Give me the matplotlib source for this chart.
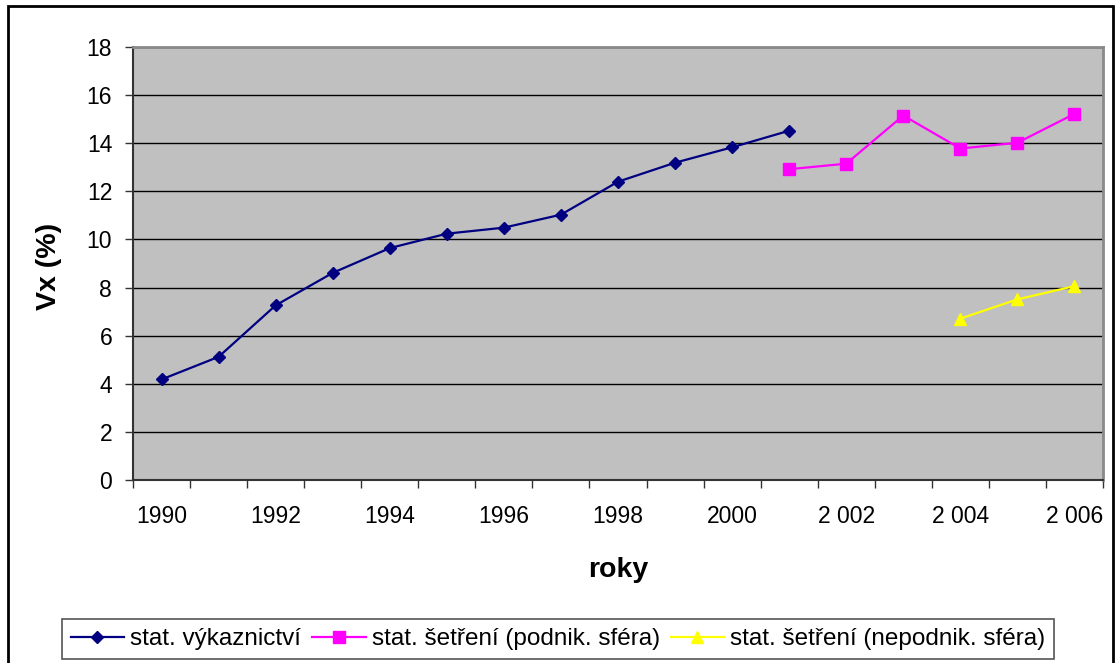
import matplotlib
matplotlib.use("Agg")
import matplotlib.pyplot as plt
from matplotlib.patches import Rectangle
from matplotlib.ticker import FixedLocator, MultipleLocator

plt.rcParams['font.family'] = ['Liberation Sans', 'DejaVu Sans']

years = list(range(1990, 2007))
tick_labels = ["1990", "1992", "1994", "1996", "1998", "2000", "2 002", "2 004", "2 006"]

vykaz_years = list(range(1990, 2002))
vykaz = [4.18, 5.12, 7.26, 8.61, 9.64, 10.24, 10.49, 11.03, 12.40, 13.19, 13.83, 14.52]

podnik_years = list(range(2001, 2007))
podnik = [12.92, 13.15, 15.15, 13.78, 14.02, 15.22]

nepodnik_years = [2004, 2005, 2006]
nepodnik = [6.71, 7.51, 8.06]

series_names = ["stat. výkaznictví",
                "stat. šetření (podnik. sféra)",
                "stat. šetření (nepodnik. sféra)"]

W, H = 1115, 663
fig = plt.figure(figsize=(W / 100, H / 100), dpi=100)
ax = fig.add_axes([133 / W, 1 - 480 / H, 970 / W, 433 / H])
ax.set_facecolor('#C0C0C0')

idx = {y: i for i, y in enumerate(years)}

l1, = ax.plot([idx[y] for y in vykaz_years], vykaz, color='#000080', lw=1.6,
              marker='D', markersize=6.5, markeredgecolor='#000080', markerfacecolor='#000080')
l2, = ax.plot([idx[y] for y in podnik_years], podnik, color='#FF00FF', lw=1.6,
              marker='s', markersize=8, markeredgecolor='#FF00FF', markerfacecolor='#FF00FF')
l3, = ax.plot([idx[y] for y in nepodnik_years], nepodnik, color='#FFFF00', lw=1.6,
              marker='^', markersize=9, markeredgecolor='#FFFF00', markerfacecolor='#FFFF00')

ax.set_xlim(-0.5, len(years) - 0.5)
ax.set_ylim(0, 18)
ax.yaxis.set_major_locator(MultipleLocator(2))
ax.grid(axis='y', color='black', lw=1)
ax.set_axisbelow(True)

ax.set_xticks(list(range(0, len(years), 2)))
ax.set_xticklabels(tick_labels)
ax.xaxis.set_minor_locator(FixedLocator([i - 0.5 for i in range(len(years) + 1)]))
ax.tick_params(axis='x', which='major', length=0, pad=18, labelsize=16.5)
ax.tick_params(axis='x', which='minor', length=6, width=1, color='#333333', direction='out')
ax.tick_params(axis='y', which='major', length=6, width=1, color='#333333', pad=9, labelsize=16.5)

for s in ['left', 'bottom']:
    ax.spines[s].set_color('#333333')
    ax.spines[s].set_linewidth(1.5)
for s in ['top', 'right']:
    ax.spines[s].set_color('#8A8A8A')
    ax.spines[s].set_linewidth(2)

fig.text(49 / W, 1 - 266 / H, "Vx (%)", rotation=90, ha='center', va='center',
         fontsize=20.5, fontweight='bold')
fig.text(618 / W, 1 - 570 / H, "roky", ha='center', va='center',
         fontsize=20.5, fontweight='bold')

leg = fig.legend([l1, l2, l3], series_names, loc='center', ncol=3,
                 bbox_to_anchor=(558 / W, 1 - 639 / H), fontsize=17.5,
                 frameon=True, fancybox=False, edgecolor='#555555', framealpha=1,
                 handlelength=2.2, handletextpad=0.25, columnspacing=0.45,
                 borderpad=0.35, borderaxespad=0)
leg.get_frame().set_linewidth(1.2)

fig.patches.append(Rectangle((8 / W, -2 / H), 1105 / W, 659 / H, transform=fig.transFigure,
                             fill=False, edgecolor='black', lw=2))

fig.savefig("out.png", dpi=100)
